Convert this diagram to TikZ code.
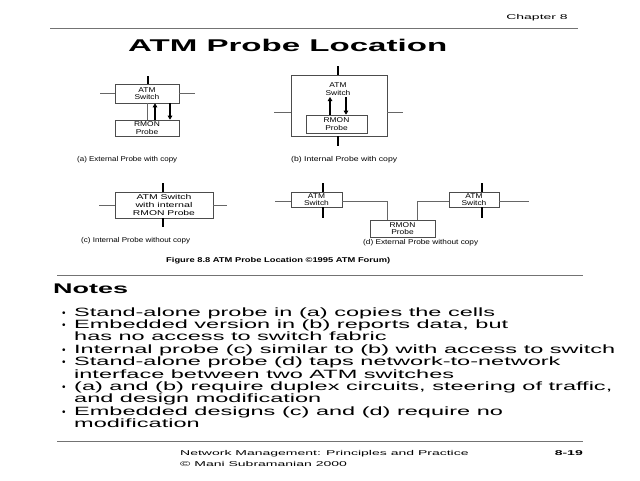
\documentclass[tikz,border=0pt]{standalone}
\usepackage{fontspec}
\setmainfont{Liberation Sans}
\usetikzlibrary{arrows.meta}
\newcommand\wfit[2]{\resizebox{#1}{\height}{#2}}
\newcommand\sxt[1]{\scalebox{2}[1]{#1}}
\newcommand\nxt[1]{\scalebox{1.96}[1]{#1}}
\newcommand\dtx[1]{\scalebox{1.2}[1]{#1}}
\begin{document}
\begin{tikzpicture}[x=1pt,y=-1pt,
  box/.style={draw=black!70, line width=0.6pt, inner sep=0pt, align=center, font=\fontsize{7}{7.6}\selectfont},
  lbl/.style={inner sep=0pt, align=center, font=\fontsize{7}{7.6}\selectfont},
  wire/.style={draw=black!60, line width=0.7pt},
  stub/.style={draw=black, line width=1.4pt},
  flow/.style={draw=black, line width=1.4pt, -{Triangle[length=4pt,width=4.5pt]}},
  rule/.style={draw=black!55, line width=0.8pt},
  capt/.style={inner sep=0pt, anchor=base west, font=\fontsize{7}{8}\selectfont},
  slide/.style={inner sep=0pt, anchor=base west, font=\fontsize{7}{8}\selectfont},
  note/.style={inner sep=0pt, anchor=base west, font=\fontsize{12}{12}\selectfont},
  bul/.style={inner sep=0pt, anchor=base west, font=\fontsize{10}{10}\selectfont}]
\useasboundingbox (0,0) rectangle (640,480);
\fill[white] (0,0) rectangle (640,480);

% header
\node[slide, anchor=base east] (chap) at (568,19) {\sxt{Chapter 8}};
\draw[rule] (50,28) -- (578,28);
\node[inner sep=0pt, anchor=base west] (title) at (128,51) {\wfit{319pt}{\fontsize{17}{17}\selectfont\bfseries ATM Probe Location}};

% (a)
\node[box, minimum width=64pt, minimum height=19pt] (aSw) at (147,93.5) {\dtx{ATM}\\\dtx{Switch}};
\node[box, minimum width=64pt, minimum height=16pt] (aRm) at (147,128) {\dtx{RMON}\\\dtx{Probe}};
\coordinate (aTop) at (148,76);
\coordinate (aL) at (100,93);
\coordinate (aR) at (195,93);
\draw[stub] (aTop) -- (aTop |- aSw.north);
\draw[wire] (aL) -- (aL -| aSw.west);
\draw[wire] (aR -| aSw.east) -- (aR);
\draw[wire] (aSw.south) -- (aRm.north);
\coordinate (aU) at (155,110);
\coordinate (aD) at (170,110);
\draw[flow] (aU |- aRm.north) -- (aU |- aSw.south);
\draw[flow] (aD |- aSw.south) -- (aD |- aRm.north);
\node[capt] (capA) at (77,161.5) {\wfit{100pt}{(a) External Probe with copy}};

% (b)
\node[box, minimum width=96pt, minimum height=61pt] (bOut) at (339,105.5) {};
\node[lbl] (bLbl) at (338,89) {\dtx{ATM}\\\dtx{Switch}};
\node[box, minimum width=61pt, minimum height=18pt] (bRm) at (336.5,124) {\dtx{RMON}\\\dtx{Probe}};
\coordinate (bTop) at (338,66);
\coordinate (bBot) at (338,146);
\coordinate (bL) at (274,112);
\coordinate (bR) at (403,112);
\draw[stub] (bTop) -- (bTop |- bOut.north);
\draw[stub] (bBot |- bOut.south) -- (bBot);
\draw[wire] (bL) -- (bL -| bOut.west);
\draw[wire] (bR -| bOut.east) -- (bR);
\coordinate (bU) at (330,97);
\coordinate (bD) at (346,97);
\draw[flow] (bU |- bRm.north) -- (bU);
\draw[flow] (bD) -- (bD |- bRm.north);
\node[capt] (capB) at (291,161.5) {\wfit{106pt}{(b) Internal Probe with copy}};

% (c)
\node[box, minimum width=98pt, minimum height=26pt] (cSw) at (164,205) {\wfit{55pt}{ATM Switch}\\\wfit{57pt}{with internal}\\\wfit{62pt}{RMON Probe}};
\coordinate (cTop) at (163,183);
\coordinate (cBot) at (163,227);
\coordinate (cL) at (99,205);
\coordinate (cR) at (227,205);
\draw[stub] (cTop) -- (cTop |- cSw.north);
\draw[stub] (cBot |- cSw.south) -- (cBot);
\draw[wire] (cL) -- (cSw.west);
\draw[wire] (cSw.east) -- (cR);
\node[capt] (capC) at (81,242) {\wfit{109pt}{(c) Internal Probe without copy}};

% (d)
\node[box, minimum width=51pt, minimum height=15pt] (dL) at (316.5,199.5) {\dtx{ATM}\\\dtx{Switch}};
\node[box, minimum width=50pt, minimum height=15pt] (dR) at (474,199.5) {\dtx{ATM}\\\dtx{Switch}};
\node[box, minimum width=65pt, minimum height=17pt] (dRm) at (402.5,228.5) {\dtx{RMON}\\\dtx{Probe}};
\coordinate (dLTop) at (323,183);
\coordinate (dLBot) at (323,218);
\coordinate (dRTop) at (482,183);
\coordinate (dRBot) at (482,218);
\draw[stub] (dLTop) -- (dLTop |- dL.north);
\draw[stub] (dLBot |- dL.south) -- (dLBot);
\draw[stub] (dRTop) -- (dRTop |- dR.north);
\draw[stub] (dRBot |- dR.south) -- (dRBot);
\coordinate (dLL) at (275,201);
\coordinate (dRR) at (529,201);
\coordinate (dJ1) at (387,201);
\coordinate (dJ2) at (417,201);
\draw[wire] (dLL) -- (dLL -| dL.west);
\draw[wire] (dRR -| dR.east) -- (dRR);
\draw[wire] (dJ1 -| dL.east) -- (dJ1) -- (dJ1 |- dRm.north);
\draw[wire] (dJ2 |- dRm.north) -- (dJ2) -- (dJ2 -| dR.west);
\node[capt] (capD) at (363,244.5) {\wfit{115pt}{(d) External Probe without copy}};

\node[capt] (figcap) at (166,262) {\wfit{224pt}{\bfseries Figure 8.8 ATM Probe Location ©1995 ATM Forum)}};

% notes
\draw[rule] (57,275) -- (583,275);
\node[inner sep=0pt, anchor=base west] (notes) at (53,293) {\wfit{75pt}{\fontsize{14}{14}\selectfont\bfseries Notes}};
\node[bul] (b1) at (62,316) {•};
\node[note] (n1) at (74,316) {\nxt{Stand-alone probe in (a) copies the cells}};
\node[bul] (b2) at (62,328.4) {•};
\node[note] (n2) at (74,328.4) {\nxt{Embedded version in (b) reports data, but}};
\node[note] (n3) at (74,340.8) {\nxt{has no access to switch fabric}};
\node[bul] (b4) at (62,353.2) {•};
\node[note] (n4) at (74,353.2) {\nxt{Internal probe (c) similar to (b) with access to switch}};
\node[bul] (b5) at (62,365.6) {•};
\node[note] (n5) at (74,365.6) {\nxt{Stand-alone probe (d) taps network-to-network}};
\node[note] (n6) at (74,378) {\nxt{interface between two ATM switches}};
\node[bul] (b7) at (62,390.4) {•};
\node[note] (n7) at (74,390.4) {\nxt{(a) and (b) require duplex circuits, steering of traffic,}};
\node[note] (n8) at (74,402.8) {\nxt{and design modification}};
\node[bul] (b9) at (62,415.2) {•};
\node[note] (n9) at (74,415.2) {\nxt{Embedded designs (c) and (d) require no}};
\node[note] (n10) at (74,427.6) {\nxt{modification}};

% footer
\draw[rule] (57,441) -- (583,441);
\node[slide] (f1) at (180,455) {\sxt{Network Management: Principles and Practice}};
\node[slide] (f2) at (180,466) {\sxt{© Mani Subramanian 2000}};
\node[slide, anchor=base east] (pg) at (583,455) {\sxt{\bfseries 8-19}};
\end{tikzpicture}
\end{document}
